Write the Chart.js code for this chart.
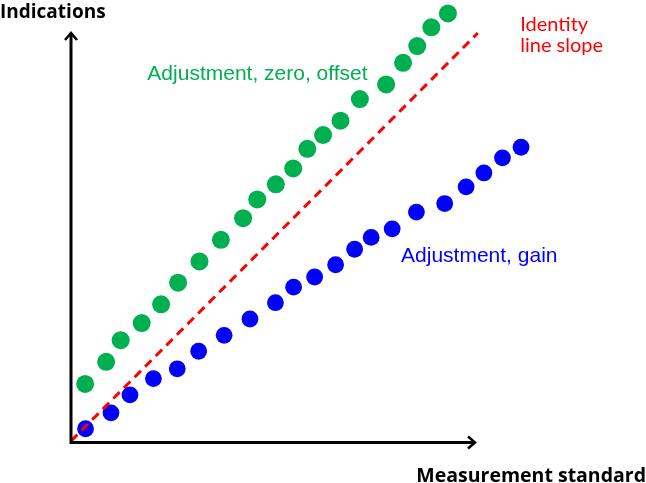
<!DOCTYPE html>
<html>
<head>
<meta charset="utf-8">
<script src="https://cdn.jsdelivr.net/npm/chart.js@4"></script>
<style>
  html, body { margin: 0; padding: 0; background: #fff; }
  #wrap { width: 646px; height: 483px; }
</style>
</head>
<body>
<div id="wrap"><canvas id="chart" width="646" height="483"></canvas></div>
<script>
// values (axis units 0..100 along each arrow)
const offsetX = [3.5, 8.7, 12.3, 17.5, 22.3, 26.5, 31.8, 37.1, 42.6, 46.1, 50.7, 55.0, 58.5, 62.4, 66.7, 71.5, 78.0, 82.2, 85.7, 89.2, 93.3];
const offsetY = [14.0, 19.4, 24.7, 28.9, 33.5, 38.8, 44.0, 49.3, 54.6, 59.2, 62.9, 66.8, 71.6, 75.0, 78.5, 83.8, 87.4, 92.7, 96.8, 101.4, 104.8];
const gainX = [3.6, 9.9, 14.6, 20.4, 26.3, 31.6, 37.9, 44.3, 50.6, 55.1, 60.3, 65.5, 70.2, 74.3, 79.5, 85.5, 92.5, 97.8, 102.2, 106.8, 111.4];
const gainY = [3.0, 6.9, 11.3, 15.3, 17.7, 22.0, 25.9, 29.9, 33.9, 37.7, 40.2, 43.2, 47.0, 49.9, 52.0, 56.1, 58.2, 62.3, 65.7, 69.4, 72.0];
const identityX = [0, 100.7];
const identityY = [0, 100];

const GREEN = "#00b050";
const BLUE = "#0000ff";
const RED = "#ff0000";

const toPoints = (xs, ys) => xs.map((x, i) => ({ x: x, y: ys[i] }));

// arrows for the two axes plus the free text on the drawing
const decorations = {
  id: "decorations",
  afterDatasetsDraw(chart) {
    const ctx = chart.ctx;
    const xs = chart.scales.x;
    const ys = chart.scales.y;
    const x0 = xs.getPixelForValue(0);
    const y0 = ys.getPixelForValue(0);
    const xEnd = xs.getPixelForValue(100);
    const yEnd = ys.getPixelForValue(100);

    ctx.save();
    ctx.strokeStyle = "#000";
    ctx.lineWidth = 3;
    ctx.lineCap = "butt";
    ctx.beginPath();
    ctx.moveTo(x0, yEnd + 1);
    ctx.lineTo(x0, y0 + 1.5);
    ctx.lineTo(xEnd - 1, y0 + 1.5);
    ctx.stroke();
    // arrow heads
    ctx.lineWidth = 2.5;
    ctx.lineJoin = "miter";
    ctx.beginPath();
    ctx.moveTo(x0 - 6, yEnd + 7);
    ctx.lineTo(x0, yEnd);
    ctx.lineTo(x0 + 6, yEnd + 7);
    ctx.stroke();
    ctx.beginPath();
    ctx.moveTo(xEnd - 7, y0 + 1.5 - 6);
    ctx.lineTo(xEnd, y0 + 1.5);
    ctx.lineTo(xEnd - 7, y0 + 1.5 + 6);
    ctx.stroke();

    ctx.textBaseline = "alphabetic";
    ctx.fillStyle = "#000";
    ctx.font = "bold 19px 'Open Sans'";
    ctx.textAlign = "left";
    ctx.fillText("Indications", 0, 18);
    ctx.textAlign = "right";
    ctx.font = "bold 19.5px 'Open Sans'";
    ctx.fillText("Measurement standard", 646, 482);

    ctx.textAlign = "left";
    ctx.font = "21px 'Liberation Sans'";
    ctx.fillStyle = GREEN;
    ctx.fillText("Adjustment, zero, offset", xs.getPixelForValue(18.9), ys.getPixelForValue(88.5));
    ctx.fillStyle = BLUE;
    ctx.fillText("Adjustment, gain", xs.getPixelForValue(81.7), ys.getPixelForValue(43.9));

    ctx.font = "20px Lato";
    ctx.fillStyle = RED;
    ctx.fillText("Identity", xs.getPixelForValue(111.2), ys.getPixelForValue(100.5));
    ctx.fillText("line slope", xs.getPixelForValue(111.2), ys.getPixelForValue(95.4));
    ctx.restore();
  }
};

new Chart(document.getElementById("chart"), {
  type: "scatter",
  data: {
    datasets: [
      {
        label: "Identity line slope",
        type: "line",
        data: toPoints(identityX, identityY),
        borderColor: RED,
        borderWidth: 3,
        borderDash: [9, 6],
        pointRadius: 0,
        fill: false,
        clip: false,
      },
      {
        label: "Adjustment, zero, offset",
        data: toPoints(offsetX, offsetY),
        backgroundColor: GREEN,
        borderWidth: 0,
        pointRadius: 9,
        clip: false,
      },
      {
        label: "Adjustment, gain",
        data: toPoints(gainX, gainY),
        backgroundColor: BLUE,
        borderWidth: 0,
        pointRadius: 8.4,
        clip: false,
      },
    ],
  },
  options: {
    responsive: false,
    animation: false,
    layout: {
      autoPadding: false,
      // plot area sized so 1 unit = 4.04px across, 4.08px up
      padding: { left: 71, right: 110.4, top: 0.36, bottom: 42 },
    },
    plugins: {
      legend: { display: false },
      tooltip: { enabled: false },
    },
    scales: {
      x: { type: "linear", min: 0, max: 115, display: false },
      y: { type: "linear", min: 0, max: 108, display: false },
    },
  },
  plugins: [decorations],
});
</script>
</body>
</html>
